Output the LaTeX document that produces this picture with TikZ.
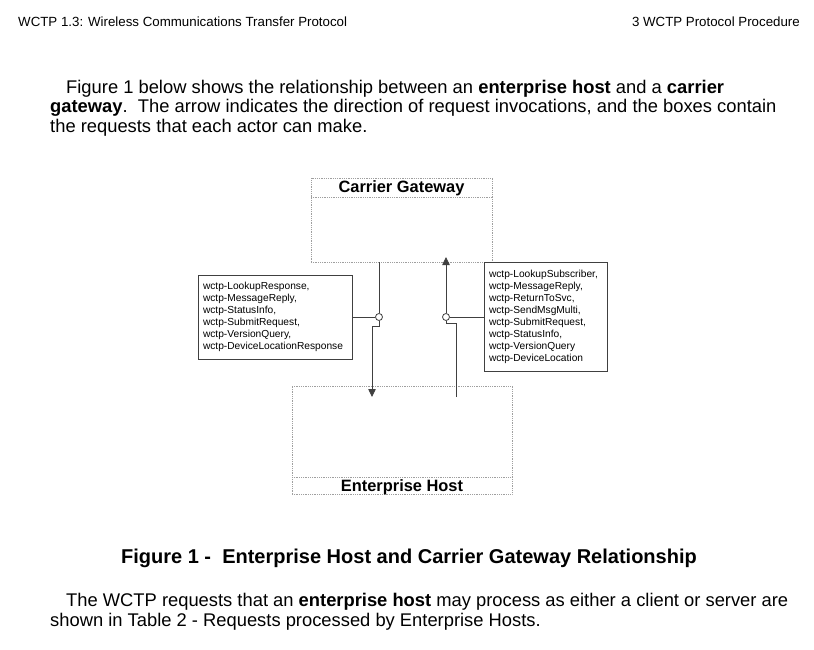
\documentclass[tikz,border=0pt]{standalone}
\usepackage{fontspec}
\setmainfont{Liberation Sans}
\usetikzlibrary{arrows.meta}
\tikzset{
  dotbox/.style={draw=gray!75, line width=0.8pt, dash pattern=on 0.9pt off 0.9pt, inner sep=0pt},
  listbox/.style={draw=black!75, line width=0.8pt, inner sep=5pt, align=left, anchor=center,
     font=\fontsize{10.2}{12}\selectfont},
  conn/.style={draw=black!75, line width=0.8pt},
  tiparrow/.style={conn, -{Triangle[length=8pt,width=7.5pt]}},
  junction/.style={circle, draw=black!75, line width=0.8pt, minimum size=7pt, inner sep=0pt, fill=white},
  hdr/.style={font=\fontsize{13.3}{15}\selectfont, inner sep=0pt},
  body/.style={font=\fontsize{18.35}{20}\selectfont, inner sep=0pt, anchor=base west},
  boxtitle/.style={font=\fontsize{16.4}{18}\selectfont\bfseries, inner sep=0pt, anchor=base},
}
\begin{document}
\begin{tikzpicture}[x=1pt,y=-1pt]
\useasboundingbox[fill=white] (0,0) rectangle (814,650);

% header
\node[hdr, anchor=base west] (hl) at (18,26.5) {WCTP 1.3: Wireless Communications Transfer Protocol};
\node[hdr, anchor=base east] (hr) at (800,26.5) {3 WCTP Protocol Procedure};

% intro paragraph
\node[body] (p1) at (66,93.5) {Figure 1 below shows the relationship between an \textbf{enterprise host} and a \textbf{carrier}};
\node[body] (p2) at (50,113) {\textbf{gateway}.\ \ The arrow indicates the direction of request invocations, and the boxes contain};
\node[body] (p3) at (50,132.5) {the requests that each actor can make.};

% Carrier Gateway box
\node[dotbox, minimum width=181pt, minimum height=84pt] (cg) at (401.5,220) {};
\draw[dotbox] (311,197) -- (492,197);
\node[boxtitle] (cgt) at (401.5,193) {Carrier Gateway};

% Enterprise Host box
\node[dotbox, minimum width=220pt, minimum height=108pt] (eh) at (402,440) {};
\draw[dotbox] (292,477) -- (512,477);
\node[boxtitle] (eht) at (402,491) {Enterprise Host};

% request lists
\node[listbox, text width=144pt, minimum height=84pt] (lbox) at (275,317) {wctp-LookupResponse,\\wctp-MessageReply,\\wctp-StatusInfo,\\wctp-SubmitRequest,\\wctp-VersionQuery,\\wctp-DeviceLocationResponse};
\node[listbox, text width=113pt, minimum height=109pt] (rbox) at (545.5,316.5) {wctp-LookupSubscriber,\\wctp-MessageReply,\\wctp-ReturnToSvc,\\wctp-SendMsgMulti,\\wctp-SubmitRequest,\\wctp-StatusInfo,\\wctp-VersionQuery\\wctp-DeviceLocation};

% junctions
\node[junction] (cL) at (379,317) {};
\node[junction] (cR) at (446,317) {};

\coordinate (topL) at (379,262);
\coordinate (stepL) at (372,326);
\coordinate (tipL) at (372,397);
\coordinate (baseR) at (456,397);
\coordinate (stepR) at (446,323);
\coordinate (tipR) at (446,257);

% connectors
\draw[conn] (topL) -- (cL.north);
\draw[conn] (lbox.east) -- (cL.west);
\draw[tiparrow] (cL.south) |- (stepL) -- (tipL);
\draw[conn] (baseR) |- (stepR) -- (cR.south);
\draw[tiparrow] (cR.north) -- (tipR);
\draw[conn] (cR.east) -- (rbox.west |- cR.east);

% caption
\node[font=\fontsize{20}{22}\selectfont\bfseries, inner sep=0pt, anchor=base] (cap) at (409,563) {Figure 1 -\ \ Enterprise Host and Carrier Gateway Relationship};

% closing paragraph
\node[body] (q1) at (66,606.5) {The WCTP requests that an \textbf{enterprise host} may process as either a client or server are};
\node[body] (q2) at (50,626.5) {shown in Table 2 - Requests processed by Enterprise Hosts.};
\end{tikzpicture}
\end{document}
